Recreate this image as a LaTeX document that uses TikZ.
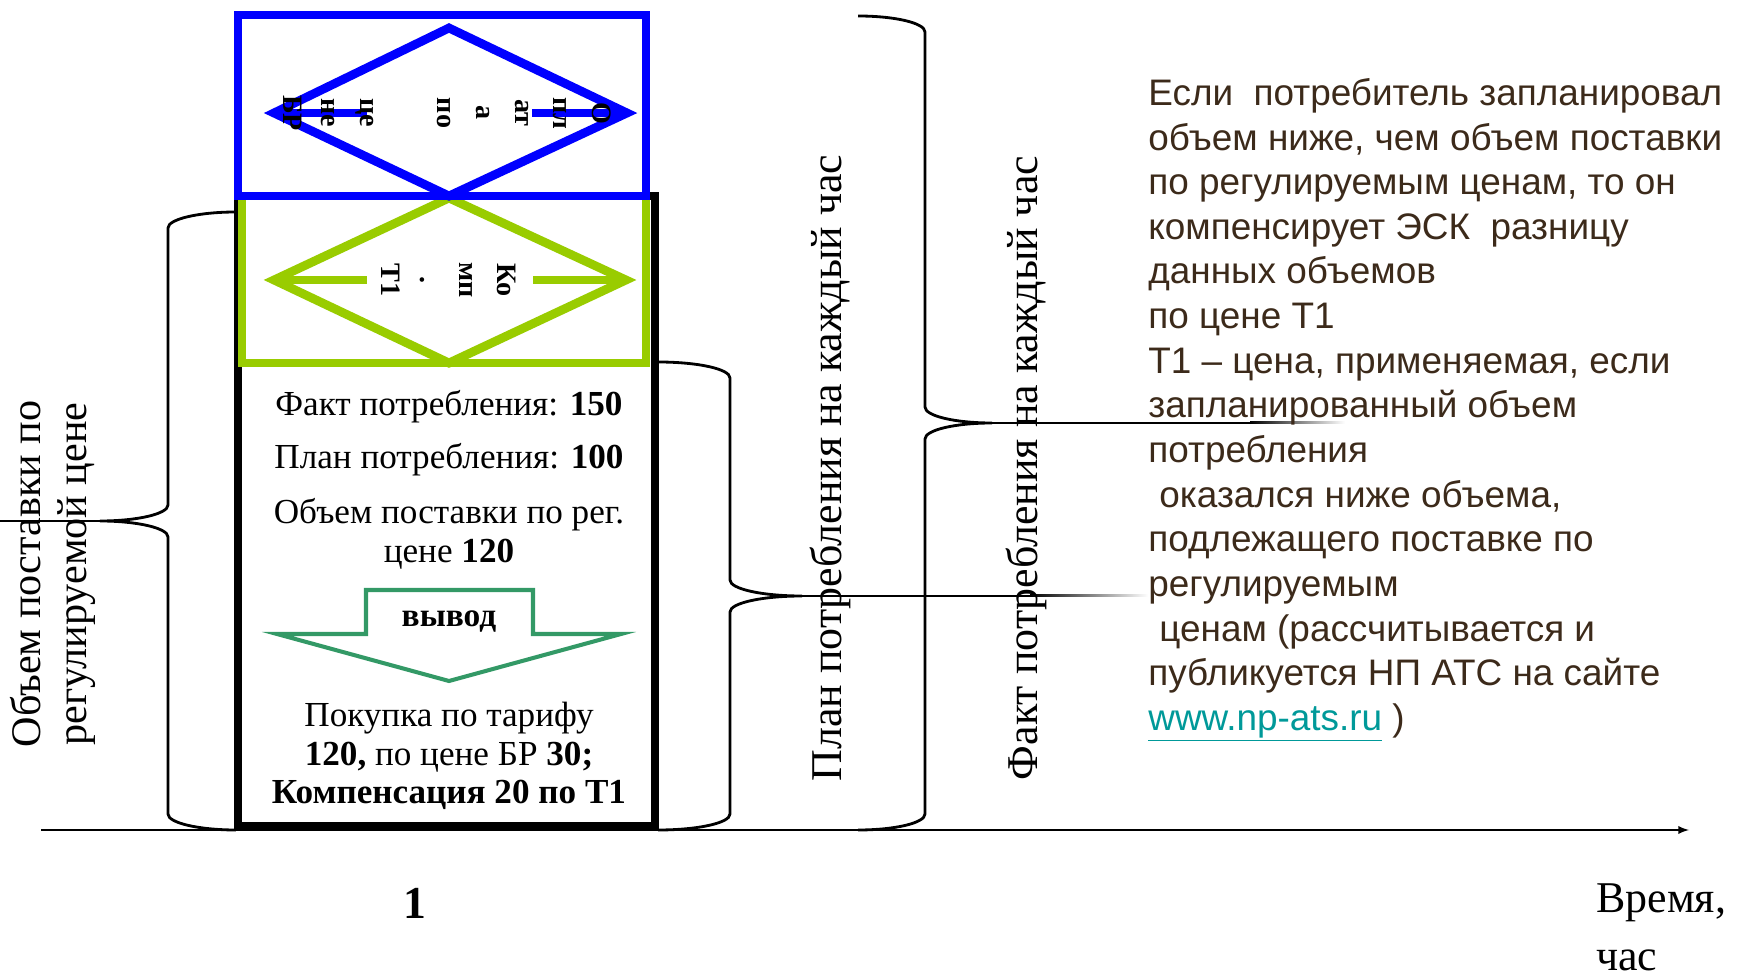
\documentclass[tikz,border=0pt]{standalone}
\usepackage{fontspec}
\setmainfont{Liberation Serif}
\newfontfamily\notefont{Liberation Sans}
\usetikzlibrary{arrows}
\definecolor{diagblue}{RGB}{0,0,255}
\definecolor{diaggreen}{RGB}{153,204,0}
\definecolor{arrowgreen}{RGB}{51,153,102}
\definecolor{notebrown}{RGB}{60,42,26}
\definecolor{linkteal}{RGB}{0,153,153}

\begin{document}
\begin{tikzpicture}[x=0.2mm, y=-0.2mm,
    boxline/.style={line width=5pt},
    bracepath/.style={line width=1.6pt},
    tipline/.style={line width=1pt},
    boxtext/.style={font=\fontsize{20}{22}\selectfont, align=center},
    cuttext/.style={rotate=-90, align=center, font=\bfseries\fontsize{16}{22}\selectfont},
    sidetext/.style={rotate=90, font=\fontsize{25}{28}\selectfont}]
      \useasboundingbox (0,0) rectangle (1748,976);
      %\draw [help lines] (0,0) grid[step=100] (1748,976);

      % hour column
      \draw [boxline] (238,196) rectangle (655,826);
      \draw [boxline, diaggreen] (242,196) rectangle (646,363);
      \draw [boxline, diaggreen] (449,198) -- (626,280) -- (449,363) -- (274,280) -- cycle;
      \draw [boxline, diaggreen] (274,280) -- (367,280) (533,280) -- (626,280);
      \draw [boxline, diagblue] (238,15) rectangle (646,196);
      \draw [boxline, diagblue] (449,28) -- (627,113) -- (449,196) -- (274,113) -- cycle;
      \draw [boxline, diagblue] (274,113) -- (367,113) (532,113) -- (627,113);
      \node [cuttext] (pay) at (447,113) {О\\пл\\ат\\а\\по\\[22pt]це\\не\\БР};
      \node [cuttext] (comp) at (449,280) {Ко\\мп\\.\\Т1};

      \node [boxtext] (fact) at (449,407) {Факт потребления: \textbf{150}};
      \node [boxtext] (plan) at (449,460) {План потребления: \textbf{100}};
      \node [boxtext] (reg) at (449,534) {Объем поставки по рег.\\цене \textbf{120}};
      \draw [arrowgreen, line width=2.3pt] (366,590) -- (533,590) -- (533,634)
      -- (621,634) -- (449,681) -- (277,634) -- (366,634) -- cycle;
      \node [boxtext, font=\bfseries\fontsize{19}{22}\selectfont] (out) at (449,622) {вывод};
      \node [boxtext] (buy) at (449,756) {Покупка по тарифу\\\textbf{120,} по цене БР \textbf{30;}\\\textbf{Компенсация 20 по Т1}};

      % braces
      \draw [bracepath] (236,212) .. controls (199,212) and (168,219) .. (168,228)
      -- (168,505) .. controls (168,514) and (137,521) .. (100,521)
      .. controls (137,521) and (168,528) .. (168,537)
      -- (168,814) .. controls (168,823) and (199,830) .. (236,830);
      \draw [bracepath] (658,362) .. controls (698,362) and (730,369) .. (730,378)
      -- (730,580) .. controls (730,589) and (762,596) .. (802,596)
      .. controls (762,596) and (730,603) .. (730,612)
      -- (730,814) .. controls (730,823) and (698,830) .. (658,830);
      \draw [bracepath] (858,16) .. controls (895,16) and (925,23) .. (925,32)
      -- (925,407) .. controls (925,416) and (955,423) .. (992,423)
      .. controls (955,423) and (925,430) .. (925,439)
      -- (925,814) .. controls (925,823) and (895,830) .. (858,830);
      \draw [tipline] (0,521) -- (100,521);
      \draw [tipline] (802,596) -- (1030,596);
      \shade [left color=black, right color=white] (1030,595) rectangle (1148,597);
      \draw [tipline] (992,423) -- (1250,423);
      \shade [left color=black, right color=white] (1250,422) rectangle (1345,424);

      \node [sidetext, align=center, font=\fontsize{24}{26}\selectfont] (vol) at (53,574)
      {Объем поставки по\\регулируемой цене};
      \node [sidetext] (plantext) at (830,468) {План потребления на каждый час};
      \node [sidetext] (facttext) at (1026,468) {Факт потребления на каждый час};

      % time axis
      \coordinate (origin) at (41,830);
      \coordinate (tend) at (1689,830);
      \draw [-latex, line width=1.1pt] (origin) -- (tend);
      \node [font=\bfseries\fontsize{26}{30}\selectfont] (hour) at (415,903) {1};
      \node [anchor=north west, align=left, inner sep=0, font=\fontsize{25}{33}\selectfont]
      (time) at (1596,883) {Время,\\час};

      \node [anchor=north west, align=left, inner sep=0, text=notebrown,
      font=\notefont\fontsize{21}{25.4}\selectfont] (note) at (1148,78)
      {Если~ потребитель запланировал\\
      объем ниже, чем объем поставки\\
      по регулируемым ценам, то он\\
      компенсирует ЭСК~ разницу\\
      данных объемов\\
      по цене Т1\\
      Т1 – цена, применяемая, если\\
      запланированный объем\\
      потребления\\
      \hspace{0.3em}оказался ниже объема,\\
      подлежащего поставке по\\
      регулируемым\\
      \hspace{0.3em}ценам (рассчитывается и\\
      публикуется НП АТС на сайте\\
      {\color{linkteal}\underline{www.np-ats.ru}} )};
\end{tikzpicture}
\end{document}
